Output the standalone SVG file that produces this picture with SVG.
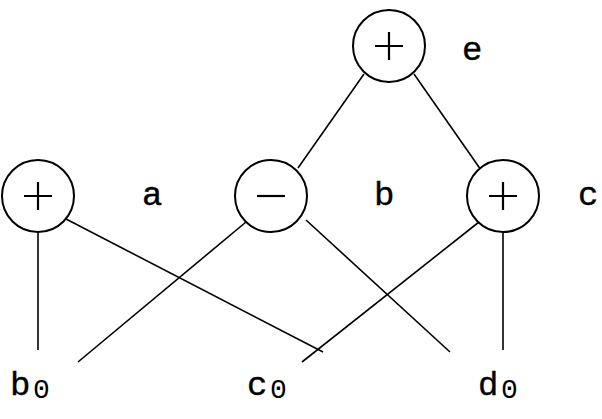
<svg xmlns="http://www.w3.org/2000/svg" width="602" height="419" viewBox="0 0 602 419">
<style>
.n{fill:#fff;stroke:#000;stroke-width:2}
.l{stroke:#000;stroke-width:1.6;fill:none}
.t{font-family:"Liberation Mono",monospace;font-size:34px;fill:#000;stroke:#000;stroke-width:0.4}
.s{font-family:"Liberation Mono",monospace;font-size:28px;fill:#000}
.o{stroke:#000;stroke-width:2.2;fill:none}
</style>
<rect width="602" height="419" fill="#fff"/>
<g id="connectors">
<line class="l" x1="364" y1="74" x2="298" y2="168"/>
<line class="l" x1="414" y1="74" x2="481" y2="170"/>
<line class="l" x1="38" y1="232" x2="38" y2="350"/>
<line class="l" x1="66" y1="219" x2="323" y2="352"/>
<line class="l" x1="246" y1="222" x2="78" y2="362"/>
<line class="l" x1="306" y1="220" x2="450" y2="352"/>
<line class="l" x1="479" y1="222" x2="302" y2="362"/>
<line class="l" x1="503" y1="232" x2="503" y2="350"/>
</g>
<g id="e"><circle class="n" cx="389" cy="46" r="36"/><path class="o" d="M375 46H403M389 32V60"/><text class="t" x="462" y="60">e</text></g>
<g id="a"><circle class="n" cx="38" cy="196" r="36"/><path class="o" d="M24 196H52M38 182V210"/><text class="t" x="142" y="205">a</text></g>
<g id="b"><circle class="n" cx="271" cy="196" r="36"/><path class="o" d="M257 196H285"/><text class="t" x="374" y="205">b</text></g>
<g id="c"><circle class="n" cx="503" cy="196" r="36"/><path class="o" d="M489 196H517M503 182V210"/><text class="t" x="578" y="205">c</text></g>
<g id="b0"><text class="t" x="10" y="395">b</text><text class="s" x="33" y="398">0</text></g>
<g id="c0"><text class="t" x="247" y="395">c</text><text class="s" x="270" y="398">0</text></g>
<g id="d0"><text class="t" x="478" y="395">d</text><text class="s" x="501" y="398">0</text></g>
</svg>
